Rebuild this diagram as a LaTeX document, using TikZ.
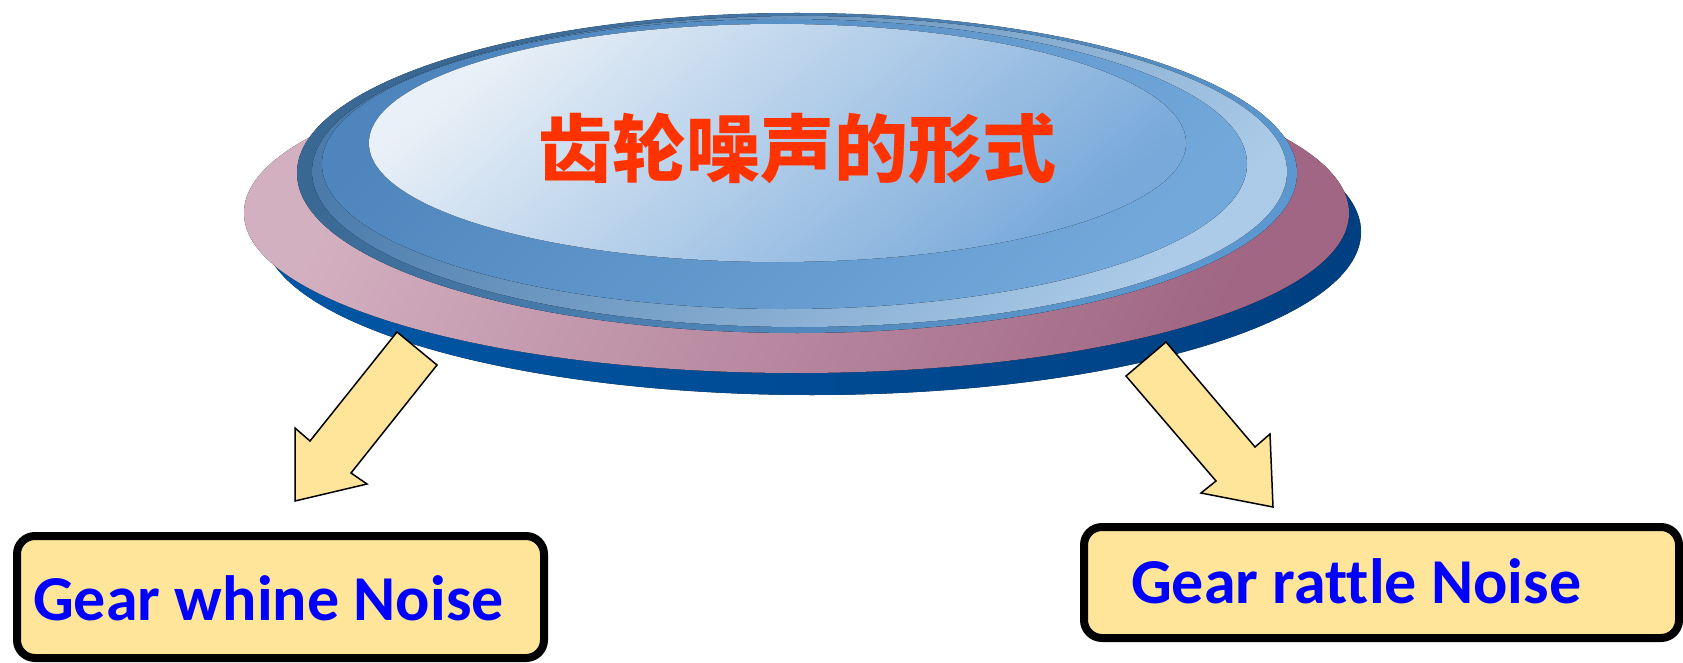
\documentclass[tikz,border=0pt]{standalone}
\usepackage{fontspec}
\setmainfont{Carlito}[Ligatures={NoCommon,NoRequired,NoContextual}]
\newfontfamily\cjk{Noto Sans CJK SC}
\definecolor{shadowL}{HTML}{0057A6}
\definecolor{shadowR}{HTML}{003F80}
\definecolor{pinkL}{HTML}{D3B0C0}
\definecolor{pinkR}{HTML}{A06683}
\definecolor{rimA1}{HTML}{3A6894}
\definecolor{rimA2}{HTML}{5C98CF}
\definecolor{ringB1}{HTML}{4A7BAB}
\definecolor{ringB2}{HTML}{ABCBE8}
\definecolor{ringC1}{HTML}{4E85BC}
\definecolor{ringC2}{HTML}{72A8DA}
\definecolor{topD1}{HTML}{E9F0F7}
\definecolor{topDm}{HTML}{B0CCE6}
\definecolor{topD2}{HTML}{78A9DA}
\definecolor{boxfill}{HTML}{FFE599}
\definecolor{textblue}{HTML}{0000FF}
\definecolor{titlered}{HTML}{FF3300}
\begin{document}
\begin{tikzpicture}[x=1pt,y=-1pt,
  boxst/.style={draw=black, line width=8pt, fill=boxfill, rounded corners=18pt, inner sep=0pt},
  lbl/.style={text=textblue, font=\fontsize{64pt}{64pt}\selectfont\bfseries, inner sep=0pt, anchor=base west},
  blockarrow/.style={fill=boxfill, draw=black, line width=1.5pt, line join=miter}]
\useasboundingbox (0,0) rectangle (1683,663);
\fill[white] (0,0) rectangle (1683,663);
% stacked ellipses of the title disc
\fill[left color=shadowL, right color=shadowR] (812,232) ellipse [x radius=549pt, y radius=163pt];
\fill[top color=pinkL, bottom color=pinkR, shading angle=65] (796.5,213) ellipse [x radius=552.5pt, y radius=160pt];
\fill[top color=rimA1, bottom color=rimA2, shading angle=45] (797,173) ellipse [x radius=500pt, y radius=160pt];
\fill[top color=ringB1, bottom color=ringB2, shading angle=45] (799.5,171.5) ellipse [x radius=487.5pt, y radius=155.5pt];
\fill[top color=ringC1, bottom color=ringC2, shading angle=45] (784.5,164) ellipse [x radius=462.5pt, y radius=145pt];
\fill[top color=topD1, middle color=topDm, bottom color=topD2, shading angle=40] (777.5,143) ellipse [x radius=408.5pt, y radius=119pt];
\node[font=\cjk\bfseries\fontsize{74pt}{74pt}\selectfont, text=titlered, anchor=base, inner sep=0pt] (title) at (797,177) {齿轮噪声的形式};
% boxes
\node[boxst, minimum width=527pt, minimum height=122pt] (whinebox) at (280.5,597) {};
\node[lbl] (whine) at (33,620) {Gear whine Noise};
\node[boxst, minimum width=595pt, minimum height=111pt] (rattlebox) at (1381.5,582.5) {};
\node[lbl] (rattle) at (1131,603) {Gear rattle Noise};
% block arrows
\draw[blockarrow] (397,332) -- (437,365) -- (351,473) -- (367,484) -- (295,501) -- (295,428) -- (310,441) -- cycle;
\draw[blockarrow] (1166,342) -- (1255,447) -- (1270,434) -- (1273,507) -- (1201,493) -- (1216,481) -- (1126,376) -- cycle;
\end{tikzpicture}
\end{document}
